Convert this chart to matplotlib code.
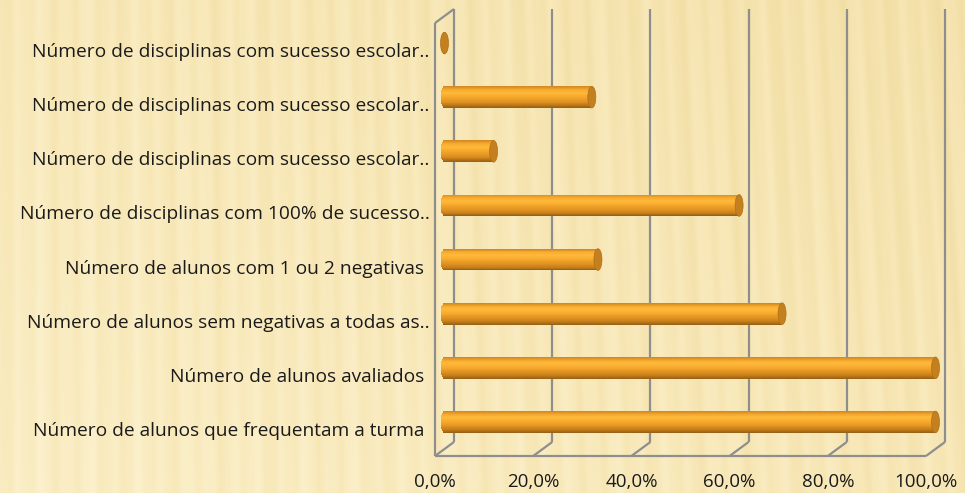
import numpy as np
import matplotlib
matplotlib.use('Agg')
import matplotlib.pyplot as plt
from matplotlib.patches import Ellipse
from matplotlib.colors import LinearSegmentedColormap

# indicadores de sucesso escolar da turma (de cima para baixo)
categorias = [
    'Número de disciplinas com sucesso escolar..',
    'Número de disciplinas com sucesso escolar..',
    'Número de disciplinas com sucesso escolar..',
    'Número de disciplinas com 100% de sucesso..',
    'Número de alunos com 1 ou 2 negativas ',
    'Número de alunos sem negativas a todas as..',
    'Número de alunos avaliados ',
    'Número de alunos que frequentam a turma ',
]
percentagens = [0.0, 30.0, 10.0, 60.0, 31.25, 68.75, 100.0, 100.0]
ticks = [0, 20, 40, 60, 80, 100]
tick_labels = ['0,0%', '20,0%', '40,0%', '60,0%', '80,0%', '100,0%']

W, H = 965, 493
plt.rcParams['font.family'] = ['Open Sans', 'DejaVu Sans']
fig = plt.figure(figsize=(W / 100, H / 100), dpi=100)
fig.patch.set_facecolor('#f9ebbf')

# fundo tipo pergaminho com riscas verticais suaves
bg = fig.add_axes([0, 0, 1, 1], zorder=-10)
xs = np.linspace(0, 1, W)
ys = np.linspace(0, 1, H)
X, Y = np.meshgrid(xs, ys)
s = X * W + 30 * (1 - Y) * X
tex = (0.5 + 0.20 * np.sin(2 * np.pi * s / 24.0)
       + 0.07 * np.sin(2 * np.pi * s / 11.0 + 1.3)
       + 0.10 * np.sin(2 * np.pi * s / 53.0 + 0.4))
tex = 0.45 * tex + 0.55 * (0.45 * X + 0.35 * (1 - Y))
papel = LinearSegmentedColormap.from_list('papel', ['#fcf2d0', '#f8e8b8', '#f0dca0'])
bg.imshow(tex, cmap=papel, aspect='auto', extent=[0, 1, 0, 1], vmin=0.05, vmax=0.85,
          interpolation='bilinear')
bg.axis('off')

# plano frontal do grafico 3D
L, R, T, B = 435, 926, 23, 456
ax = fig.add_axes([L / W, 1 - B / H, (R - L) / W, (B - T) / H])
ax.set_xlim(0, 100)
ax.set_ylim(len(categorias) - 0.5, -0.5)
ax.patch.set_alpha(0)
for sp in ax.spines.values():
    sp.set_visible(False)

# profundidade da caixa em unidades de dados
DX = 19 * 100 / (R - L)
DY = 14 * len(categorias) / (B - T)
y0, y1 = -0.5, len(categorias) - 0.5
grid = dict(color='#8e8e8e', lw=1.6, solid_capstyle='butt', clip_on=False, zorder=1)

# parede do fundo e chao
for v in ticks:
    ax.plot([v + DX, v + DX], [y0 - DY, y1 - DY], **grid)
    ax.plot([v, v + DX], [y1, y1 - DY], **grid)
ax.plot([0, 100], [y1, y1], **grid)
# parede lateral esquerda
ax.plot([0, 0], [y0, y1], **grid)
ax.plot([0, DX], [y0, y0 - DY], **grid)

# cilindros horizontais
bar_h = 0.40
a = 4 * 100 / (R - L)
n = 24
cil = LinearSegmentedColormap.from_list(
    'cil', ['#d38a22', '#f7ab2e', '#ffb93a', '#f9ae30', '#eea027', '#df9222', '#c98019', '#9a6216'])
for i, v in enumerate(percentagens):
    yc = i - DY / 2
    xc = DX / 2
    for k in range(n):
        t = -1 + (k + 0.5) * 2 / n
        half = a * np.sqrt(max(0.0, 1 - t * t))
        ax.barh(yc + t * bar_h / 2, v + half, left=xc - half, height=bar_h / n * 1.08,
                color=cil(k / (n - 1)), lw=0, clip_on=False, zorder=3)
    ax.add_patch(Ellipse((xc + v, yc), 2 * a, bar_h, facecolor='#c47f1e',
                         edgecolor='#b0711b', lw=0.5, clip_on=False, zorder=4))

ax.set_xticks(ticks)
ax.set_xticklabels(tick_labels, fontsize=13.5, color='#1a1a1a')
ax.set_yticks(range(len(categorias)))
ax.set_yticklabels(categorias, fontsize=13.8, color='#1a1a1a')
ax.tick_params(axis='x', length=0, pad=12)
ax.tick_params(axis='y', length=0, pad=4)

fig.savefig('out.png', dpi=100, facecolor=fig.get_facecolor())
